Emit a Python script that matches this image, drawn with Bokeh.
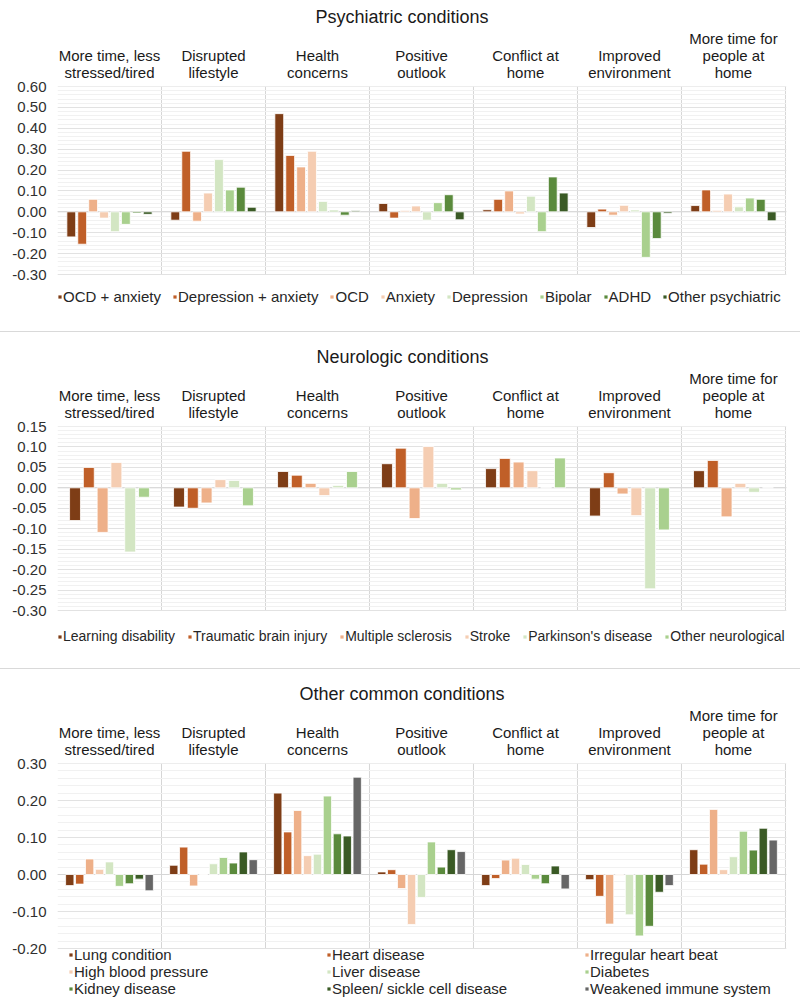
from bokeh.plotting import figure
from bokeh.models import (ColumnDataSource, Legend, LegendItem, Span, FixedTicker,
                          NumeralTickFormatter, Div, LinearAxis)
from bokeh.layouts import column
from bokeh.transform import dodge
from bokeh.embed import file_html
from bokeh.resources import INLINE

# ---------------- data ----------------
categories = ["More time, less stressed/tired", "Disrupted lifestyle", "Health concerns",
              "Positive outlook", "Conflict at home", "Improved environment",
              "More time for people at home"]
category_labels = ["More time, less\nstressed/tired", "Disrupted\nlifestyle", "Health\nconcerns",
                   "Positive\noutlook", "Conflict at\nhome", "Improved\nenvironment",
                   "More time for\npeople at\nhome"]

psych_names = ["OCD + anxiety", "Depression + anxiety", "OCD", "Anxiety", "Depression",
               "Bipolar", "ADHD", "Other psychiatric"]
ocd_anxiety = [-0.12, -0.04, 0.47, 0.04, 0.01, -0.075, 0.03]
depression_anxiety = [-0.155, 0.29, 0.27, -0.03, 0.06, 0.013, 0.105]
ocd = [0.06, -0.045, 0.215, 0.005, 0.10, -0.016, 0.006]
anxiety = [-0.03, 0.09, 0.29, 0.028, -0.01, 0.031, 0.085]
depression = [-0.095, 0.25, 0.05, -0.04, 0.075, 0.009, 0.024]
bipolar = [-0.06, 0.105, 0.008, 0.044, -0.095, -0.218, 0.066]
adhd = [-0.006, 0.118, -0.016, 0.082, 0.167, -0.128, 0.06]
other_psychiatric = [-0.012, 0.022, 0.005, -0.038, 0.09, -0.007, -0.043]

neuro_names = ["Learning disability", "Traumatic brain injury", "Multiple sclerosis", "Stroke",
               "Parkinson's disease", "Other neurological"]
learning_disability = [-0.08, -0.047, 0.04, 0.059, 0.047, -0.069, 0.042]
traumatic_brain_injury = [0.05, -0.05, 0.031, 0.097, 0.072, 0.037, 0.067]
multiple_sclerosis = [-0.109, -0.037, 0.011, -0.075, 0.063, -0.015, -0.071]
stroke = [0.062, 0.02, -0.019, 0.101, 0.042, -0.068, 0.011]
parkinsons = [-0.157, 0.018, 0.006, 0.011, 0.0, -0.247, -0.011]
other_neurological = [-0.023, -0.044, 0.04, -0.005, 0.073, -0.103, 0.0]

other_names = ["Lung condition", "Heart disease", "Irregular heart beat", "High blood pressure",
               "Liver disease", "Diabetes", "Kidney disease", "Spleen/ sickle cell disease",
               "Weakened immune system"]
lung = [-0.030, 0.025, 0.22, 0.007, -0.030, -0.014, 0.067]
heart = [-0.026, 0.074, 0.115, 0.013, -0.011, -0.059, 0.028]
irregular_heart = [0.042, -0.031, 0.173, -0.038, 0.039, -0.134, 0.176]
high_bp = [0.014, -0.001, 0.051, -0.135, 0.044, -0.002, 0.013]
liver = [0.034, 0.029, 0.055, -0.062, 0.027, -0.109, 0.048]
diabetes = [-0.032, 0.046, 0.212, 0.088, -0.0125, -0.166, 0.117]
kidney = [-0.025, 0.031, 0.11, 0.02, -0.025, -0.14, 0.066]
spleen = [-0.0125, 0.061, 0.104, 0.067, 0.023, -0.048, 0.125]
weakened_immune = [-0.044, 0.04, 0.263, 0.062, -0.039, -0.03, 0.093]

palette = ["#7E3D16", "#C05F28", "#EEB089", "#F5CDB2", "#D3E6C3", "#A9D08E", "#5A8A3C",
           "#3A5A25", "#666666"]

FONT = "Liberation Sans"
PAGE_W = 800
LEFT = 57
FRAME_W = 729


def make_panel(title, title_offset, names, values, *, height, top, frame_h, yr, interval,
               minor, slot, bar_w, legend):
    """The frame runs down to the bottom of the figure so that the legend can sit in it."""
    extra_below = height - top - frame_h
    units_per_px = (yr[1] - yr[0]) / frame_h
    y0 = yr[0] - extra_below * units_per_px
    p = figure(frame_width=FRAME_W, frame_height=frame_h + extra_below, min_border_left=LEFT,
               min_border_right=PAGE_W - LEFT - FRAME_W, min_border_top=top,
               min_border_bottom=0, x_range=(0, 7.01), y_range=(y0, yr[1] + 1e-9),
               output_backend="svg", toolbar_location=None, x_axis_location=None)
    p.outline_line_color = None
    p.background_fill_color = "white"
    p.border_fill_color = "white"
    p.xgrid.visible = False

    p.title.text = title
    p.title.align = "left"
    p.title.offset = title_offset
    p.title.text_font = FONT
    p.title.text_font_size = "18px"
    p.title.text_font_style = "normal"
    p.title.text_color = "#1a1a1a"
    p.title.standoff = 0

    nmaj = int(round((yr[1] - yr[0]) / interval))
    major = [round(yr[0] + i * interval, 3) for i in range(nmaj + 1)]
    nmin = int(round((yr[1] - yr[0]) / minor))
    minors = [round(yr[0] + i * minor, 3) for i in range(nmin + 1)]
    ax = p.yaxis[0]
    ax.ticker = FixedTicker(ticks=major, minor_ticks=minors)
    ax.formatter = NumeralTickFormatter(format="0.00")
    ax.axis_line_color = None
    ax.major_tick_line_color = None
    ax.minor_tick_line_color = None
    ax.major_tick_out = 0
    ax.major_label_standoff = 7
    ax.major_label_text_font = FONT
    ax.major_label_text_font_size = "15px"
    ax.major_label_text_color = "#303030"

    centers = [i + 0.5 for i in range(len(categories))]
    cax = LinearAxis(ticker=FixedTicker(ticks=centers),
                     major_label_overrides={c: lab for c, lab in zip(centers, category_labels)})
    cax.axis_line_color = None
    cax.major_tick_line_color = None
    cax.minor_tick_line_color = None
    cax.major_tick_out = 0
    cax.major_tick_in = 0
    cax.major_label_standoff = 6
    cax.major_label_text_font = FONT
    cax.major_label_text_font_size = "15px"
    cax.major_label_text_color = "#1a1a1a"
    cax.major_label_text_line_height = 1.0
    cax.major_label_text_align = "center"
    p.add_layout(cax, "above")

    p.ygrid.grid_line_color = "#e2e2e2"
    p.ygrid.minor_grid_line_color = "#f1f1f1"
    bounds = list(range(1, len(categories) + 1))
    p.segment(x0=bounds, x1=bounds, y0=[yr[0]] * len(bounds), y1=[yr[1]] * len(bounds),
              line_color="#d6d6d6", line_width=1, level="underlay")
    p.add_layout(Span(location=0, dimension="width", line_color="#d6d6d6", line_width=1,
                      level="underlay"))

    data = {"x": centers}
    for j, vals in enumerate(values):
        data[f"s{j}"] = vals
    src = ColumnDataSource(data)
    n = len(names)
    items = []
    for j, nm in enumerate(names):
        off = (j - (n - 1) / 2) * slot
        r = p.vbar(x=dodge("x", off), top=f"s{j}", bottom=0, width=bar_w, source=src,
                   fill_color=palette[j], line_color="white", line_width=0.8)
        items.append(LegendItem(label=nm, renderers=[r]))

    loc, spacing, font_size, label_w, ncols = legend
    leg = Legend(items=items, orientation="horizontal", location=loc)
    leg.glyph_width = 5
    leg.glyph_height = 5
    leg.label_standoff = 1
    leg.spacing = spacing
    leg.padding = 0
    leg.margin = 0
    leg.border_line_color = None
    leg.background_fill_alpha = 0
    leg.label_text_font = FONT
    leg.label_text_font_size = font_size
    leg.label_text_color = "#262626"
    leg.label_height = 14
    leg.label_width = label_w
    if ncols:
        leg.ncols = ncols
    p.add_layout(leg)
    return p


p1 = make_panel("Psychiatric conditions", 258, psych_names,
                [ocd_anxiety, depression_anxiety, ocd, anxiety, depression, bipolar, adhd,
                 other_psychiatric],
                height=331, top=86, frame_h=188, yr=(-0.30, 0.60), interval=0.1, minor=0.02,
                slot=0.105, bar_w=0.085, legend=((0, 26), 11, "15px", 20, None))

p2 = make_panel("Neurologic conditions", 259, neuro_names,
                [learning_disability, traumatic_brain_injury, multiple_sclerosis, stroke,
                 parkinsons, other_neurological],
                height=336, top=94, frame_h=184, yr=(-0.30, 0.15), interval=0.05, minor=0.01,
                slot=0.1326, bar_w=0.105, legend=((0, 24), 12, "14px", 20, None))

p3 = make_panel("Other common conditions", 242, other_names,
                [lung, heart, irregular_heart, high_bp, liver, diabetes, kidney, spleen,
                 weakened_immune],
                height=336, top=94, frame_h=185, yr=(-0.20, 0.30), interval=0.1, minor=0.02,
                slot=0.0955, bar_w=0.08, legend=((11, 8), -2, "15px", 252, 3))


def sep():
    return Div(width=PAGE_W, height=1, margin=0, styles={"background-color": "#d9d9d9"})


layout = column(p1, sep(), p2, sep(), p3, spacing=0)
open("out.html", "w").write(file_html(layout, INLINE))
